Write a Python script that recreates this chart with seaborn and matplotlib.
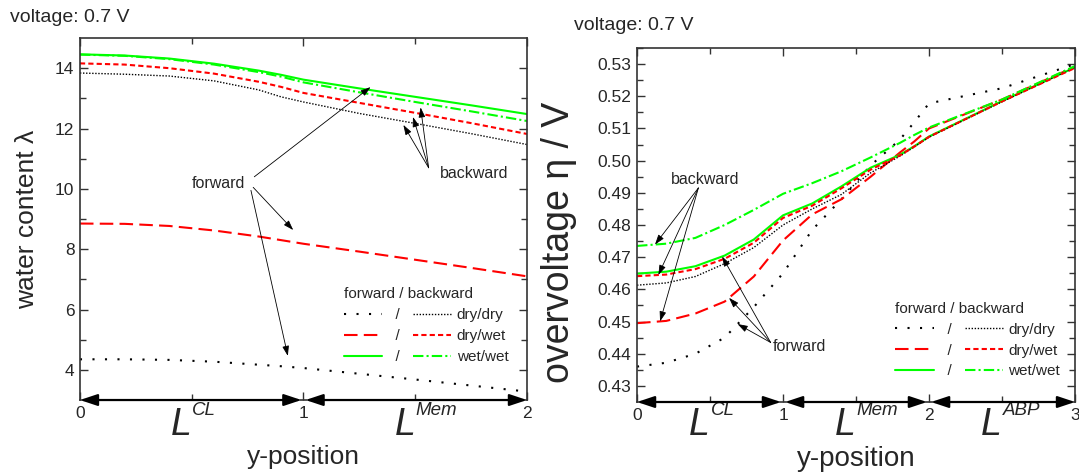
import numpy as np
import seaborn as sns
import matplotlib.pyplot as plt

sns.set_style("ticks")
plt.rcParams['font.family'] = ['Liberation Sans', 'DejaVu Sans']
plt.rcParams['mathtext.fontset'] = 'custom'
plt.rcParams['mathtext.rm'] = 'Liberation Sans'
plt.rcParams['mathtext.it'] = 'Liberation Sans:italic'

# ---- left panel: water content along y ----
pos_wc = [0, 0.2, 0.4, 0.6, 0.8, 0.9, 1.0, 1.25, 1.5, 1.75, 2.0]
wc_fwd_drydry = [4.35, 4.35, 4.33, 4.27, 4.17, 4.12, 4.06, 3.87, 3.68, 3.48, 3.28]
wc_fwd_drywet = [8.85, 8.84, 8.77, 8.62, 8.42, 8.30, 8.18, 7.92, 7.65, 7.38, 7.10]
wc_fwd_wetwet = [14.46, 14.42, 14.32, 14.15, 13.92, 13.78, 13.62, 13.33, 13.05, 12.77, 12.48]
wc_bwd_drydry = [13.84, 13.80, 13.74, 13.58, 13.28, 13.05, 12.88, 12.50, 12.17, 11.83, 11.47]
wc_bwd_drywet = [14.16, 14.12, 14.00, 13.82, 13.55, 13.38, 13.18, 12.85, 12.52, 12.18, 11.82]
wc_bwd_wetwet = [14.45, 14.41, 14.30, 14.12, 13.87, 13.72, 13.53, 13.20, 12.88, 12.57, 12.25]

# ---- right panel: overvoltage along y ----
pos_ov = [0, 0.2, 0.4, 0.6, 0.8, 1.0, 1.2, 1.4, 1.6, 1.8, 1.9, 2.0, 2.5, 3.0]
ov_fwd_drydry = [0.4360, 0.4372, 0.4400, 0.4450, 0.4545, 0.4650, 0.4785, 0.4880, 0.4985,
                 0.5065, 0.5120, 0.5178, 0.5225, 0.5300]
ov_fwd_drywet = [0.4495, 0.4502, 0.4525, 0.4562, 0.4640, 0.4752, 0.4833, 0.4880, 0.4950,
                 0.5025, 0.5060, 0.5100, 0.5190, 0.5292]
ov_fwd_wetwet = [0.4649, 0.4655, 0.4672, 0.4705, 0.4755, 0.4830, 0.4867, 0.4920, 0.4978,
                 0.5018, 0.5045, 0.5075, 0.5185, 0.5290]
ov_bwd_drydry = [0.4613, 0.4620, 0.4640, 0.4680, 0.4730, 0.4800, 0.4850, 0.4895, 0.4962,
                 0.5014, 0.5043, 0.5073, 0.5183, 0.5290]
ov_bwd_drywet = [0.4641, 0.4646, 0.4663, 0.4695, 0.4745, 0.4822, 0.4860, 0.4914, 0.4972,
                 0.5016, 0.5044, 0.5074, 0.5184, 0.5288]
ov_bwd_wetwet = [0.4735, 0.4742, 0.4760, 0.4800, 0.4847, 0.4897, 0.4930, 0.4967, 0.5010,
                 0.5055, 0.5080, 0.5103, 0.5190, 0.5294]

cases = ['dry/dry', 'dry/wet', 'wet/wet']
layers_left = ['CL', 'Mem']
layers_right = ['CL', 'Mem', 'ABP']

GREEN = '#00ff00'
RED = '#ff0000'
fwd_styles = [dict(color='black', lw=1.5, ls=(0, (1, 5))),
              dict(color=RED, lw=1.5, ls=(0, (6.5, 3))),
              dict(color=GREEN, lw=1.5, ls='-')]
bwd_styles = [dict(color='black', lw=1.0, ls=(0, (1, 1.2))),
              dict(color=RED, lw=1.5, ls=(0, (2.5, 1.5))),
              dict(color=GREEN, lw=1.5, ls=(0, (5, 1.5, 1, 1.5)))]


def draw_curves(ax, x, fwd, bwd):
    for vals, st in zip(fwd + bwd, fwd_styles + bwd_styles):
        sns.lineplot(x=x, y=vals, ax=ax, color=st['color'], linewidth=st['lw'],
                     linestyle=st['ls'], sort=False, errorbar=None)


def style_axes(ax, xmaj, xmin, ymaj, ymin):
    ax.set_xticks(xmaj)
    ax.set_xticks(xmin, minor=True)
    ax.set_yticks(ymaj)
    ax.set_yticks(ymin, minor=True)
    ax.tick_params(which='both', direction='in', top=True, right=True,
                   labelsize=12.5, width=1, color='#333333')
    ax.tick_params(which='major', length=6, pad=4)
    ax.tick_params(which='minor', length=4)
    for s in ax.spines.values():
        s.set_linewidth(1.2)
        s.set_color('#333333')


def layer_arrows(ax, edges, names, base):
    y0 = ax.get_ylim()[0]
    trans = ax.get_xaxis_transform()
    for a, b, name in zip(edges[:-1], edges[1:], names):
        ax.annotate('', xy=(b, y0), xytext=(a, y0),
                    arrowprops=dict(arrowstyle='<|-|>,head_length=0.75,head_width=0.25',
                                    color='black', lw=1.6, mutation_scale=14,
                                    shrinkA=0 if a == edges[0] else 1.5,
                                    shrinkB=0 if b == edges[-1] else 1.5),
                    annotation_clip=False, zorder=5)
        mid = (a + b) / 2
        ax.text(mid, base, 'L', transform=trans, ha='right', va='baseline',
                fontsize=27, fontstyle='italic')
        ax.annotate(name, xy=(mid, base), xycoords=trans, xytext=(0.5, 14.5),
                    textcoords='offset points', ha='left', va='baseline',
                    fontsize=13.5, fontstyle='italic')


def pointer(ax, text, tpos, srcs, tips, fs=11.5):
    ax.text(tpos[0], tpos[1], text, ha='center', va='center', fontsize=fs)
    for s, t in zip(srcs, tips):
        ax.annotate('', xy=t, xytext=s,
                    arrowprops=dict(arrowstyle='-|>,head_length=0.6,head_width=0.2',
                                    color='black', lw=0.6, mutation_scale=10,
                                    shrinkA=0, shrinkB=0))


def add_legend(ax, anchor):
    leg = ax.legend(ax.lines[:6], ['  /', '  /', '  /'] + cases, ncol=2,
                    title='forward / backward', loc='upper left',
                    bbox_to_anchor=anchor, frameon=False, fontsize=11,
                    title_fontsize=11, alignment='left', handlelength=2.5,
                    handletextpad=0.35, columnspacing=0.85, labelspacing=0.45,
                    borderpad=0, borderaxespad=0)
    return leg


fig = plt.figure(figsize=(10.79, 4.73), dpi=100)
ax1 = fig.add_axes([0.0741, 0.1543, 0.4143, 0.7653])
ax2 = fig.add_axes([0.5904, 0.1501, 0.4059, 0.7484])

# left panel
draw_curves(ax1, pos_wc, [wc_fwd_drydry, wc_fwd_drywet, wc_fwd_wetwet],
            [wc_bwd_drydry, wc_bwd_drywet, wc_bwd_wetwet])
ax1.set_xlim(0, 2)
ax1.set_ylim(3, 15)
style_axes(ax1, [0, 1, 2], [0.5, 1.5], [4, 6, 8, 10, 12, 14], [5, 7, 9, 11, 13])
ax1.set_xlabel('y-position', fontsize=19)
ax1.xaxis.set_label_coords(0.5, -0.125)
ax1.xaxis.label.set_va('top')
ax1.set_ylabel('water content λ', fontsize=19)
ax1.yaxis.set_label_coords(-0.092, 0.5)
layer_arrows(ax1, [0, 1, 2], layers_left, -0.097)
pointer(ax1, 'forward', (0.62, 10.19),
        [(0.78, 10.4), (0.775, 10.05), (0.765, 9.95)],
        [(1.3, np.interp(1.3, pos_wc, wc_fwd_wetwet) + 0.1),
         (0.954, np.interp(0.954, pos_wc, wc_fwd_drywet) + 0.4),
         (0.93, np.interp(0.93, pos_wc, wc_fwd_drydry) + 0.36)])
pointer(ax1, 'backward', (1.765, 10.52),
        [(1.56, 10.7)] * 3,
        [(1.447, np.interp(1.447, pos_wc, wc_bwd_drydry) - 0.12),
         (1.49, np.interp(1.49, pos_wc, wc_bwd_drywet) - 0.15),
         (1.524, np.interp(1.524, pos_wc, wc_bwd_wetwet) - 0.15)])
add_legend(ax1, (0.59, 0.311))

# right panel
draw_curves(ax2, pos_ov, [ov_fwd_drydry, ov_fwd_drywet, ov_fwd_wetwet],
            [ov_bwd_drydry, ov_bwd_drywet, ov_bwd_wetwet])
ax2.set_xlim(0, 3)
ax2.set_ylim(0.425, 0.5347)
style_axes(ax2, [0, 1, 2, 3], [0.5, 1.5, 2.5],
           np.round(np.arange(0.43, 0.5351, 0.01), 2),
           np.round(np.arange(0.435, 0.535, 0.01), 3))
ax2.yaxis.set_major_formatter(plt.FormatStrFormatter('%.2f'))
ax2.set_xlabel('y-position', fontsize=20)
ax2.xaxis.set_label_coords(0.5, -0.123)
ax2.xaxis.label.set_va('top')
ax2.set_ylabel('overvoltage η / V', fontsize=27)
ax2.yaxis.set_label_coords(-0.137, 0.45)
layer_arrows(ax2, [0, 1, 2, 3], layers_right, -0.093)
pointer(ax2, 'backward', (0.47, 0.4941),
        [(0.42, 0.4915)] * 3,
        [(0.123, np.interp(0.123, pos_ov, ov_bwd_wetwet)),
         (0.146, np.interp(0.146, pos_ov, ov_bwd_drywet)),
         (0.158, np.interp(0.158, pos_ov, ov_fwd_drywet))])
pointer(ax2, 'forward', (1.113, 0.4424),
        [(0.915, 0.4435)] * 3,
        [(0.583, np.interp(0.583, pos_ov, ov_fwd_wetwet)),
         (0.63, np.interp(0.63, pos_ov, ov_fwd_drywet)),
         (0.689, np.interp(0.689, pos_ov, ov_fwd_drydry))])
add_legend(ax2, (0.59, 0.283))

fig.text(0.0093, 0.962, 'voltage: 0.7 V', fontsize=14, va='center')
fig.text(0.532, 0.947, 'voltage: 0.7 V', fontsize=14, va='center')

fig.savefig('out.png', dpi=100)
